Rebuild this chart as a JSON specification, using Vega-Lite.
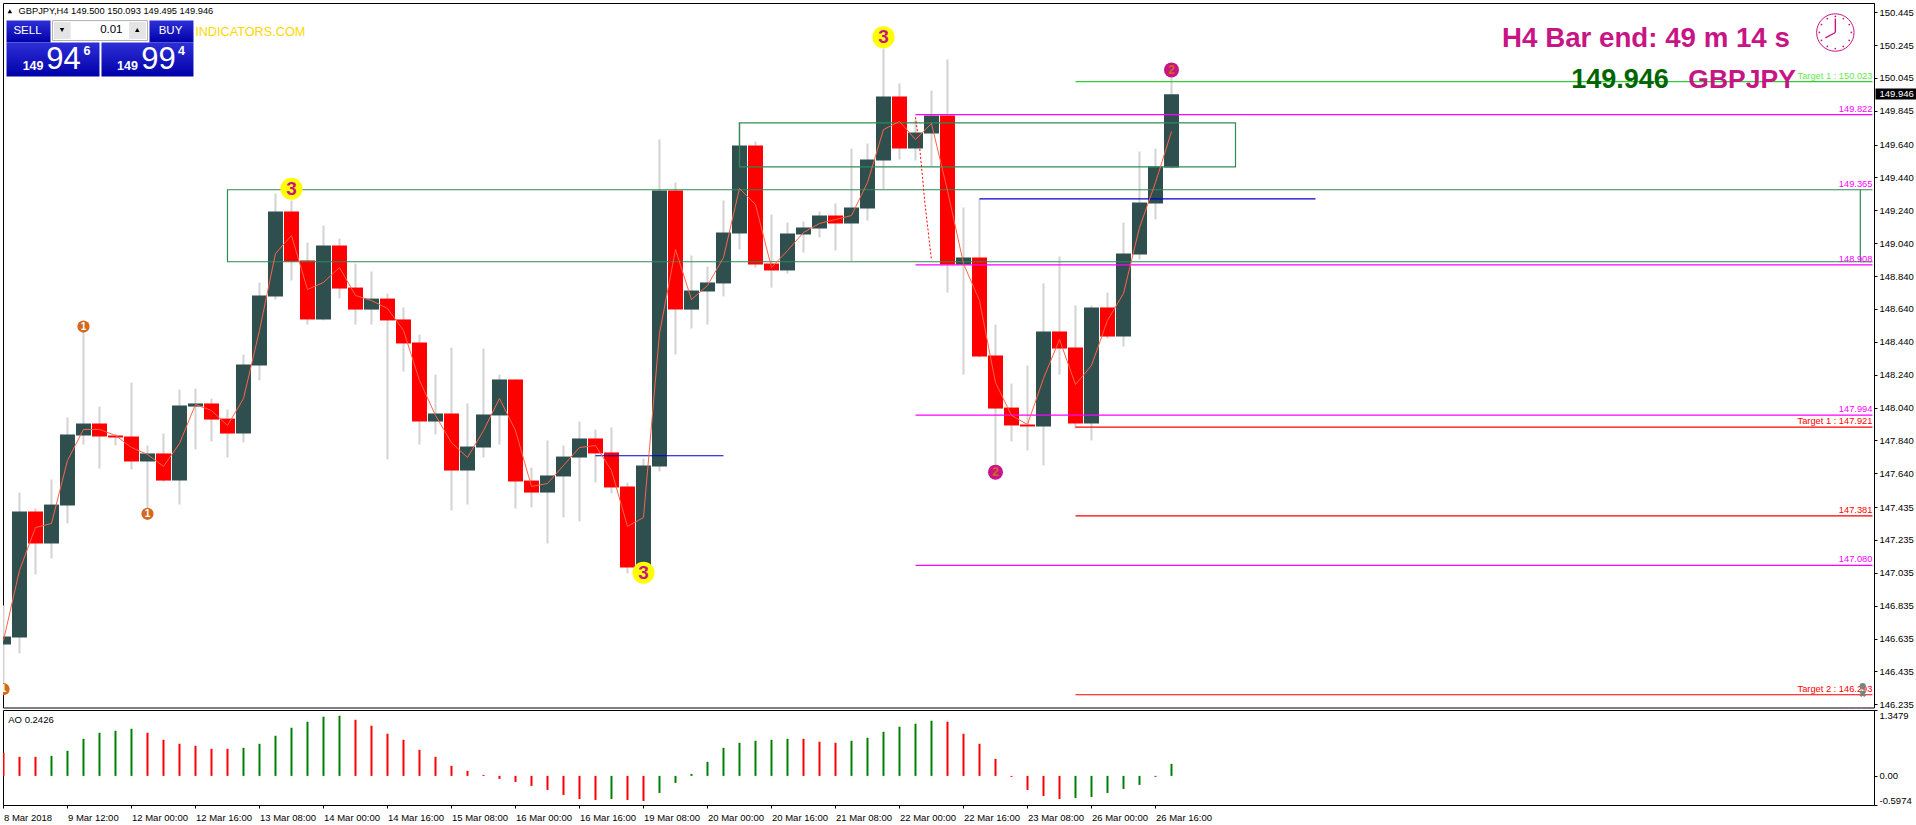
{
  "$schema": "https://vega.github.io/schema/vega-lite/v6.json",
  "background": "white",
  "padding": {"left": 2, "top": 2, "right": 0, "bottom": 0},
  "config": {
    "font": "Liberation Sans",
    "view": {"stroke": "#000000", "strokeWidth": 1},
    "axis": {"grid": false, "title": null, "labelColor": "#000000", "tickColor": "#000000", "domainColor": "#000000", "labelFontSize": 9.5, "tickSize": 3, "labelPadding": 2, "labelOverlap": false, "labelBound": false, "labelFlush": false}
  },
  "datasets": {
    "bars": [
      {"bar":0,"open":146.599,"high":146.836,"low":146.320,"close":146.648,"ma":146.623,"ao":0.517,"ao_dir":"down"},
      {"bar":1,"open":146.641,"high":147.523,"low":146.544,"close":147.408,"ma":147.049,"ao":0.427,"ao_dir":"down"},
      {"bar":2,"open":147.408,"high":147.426,"low":147.025,"close":147.213,"ma":147.310,"ao":0.427,"ao_dir":"down"},
      {"bar":3,"open":147.213,"high":147.603,"low":147.122,"close":147.450,"ma":147.335,"ao":0.449,"ao_dir":"up"},
      {"bar":4,"open":147.444,"high":147.980,"low":147.335,"close":147.876,"ma":147.718,"ao":0.562,"ao_dir":"up"},
      {"bar":5,"open":147.870,"high":148.509,"low":147.815,"close":147.943,"ma":147.907,"ao":0.831,"ao_dir":"up"},
      {"bar":6,"open":147.943,"high":148.046,"low":147.669,"close":147.864,"ma":147.907,"ao":0.966,"ao_dir":"up"},
      {"bar":7,"open":147.870,"high":147.882,"low":147.809,"close":147.858,"ma":147.870,"ao":1.011,"ao_dir":"up"},
      {"bar":8,"open":147.864,"high":148.192,"low":147.663,"close":147.712,"ma":147.797,"ao":1.056,"ao_dir":"up"},
      {"bar":9,"open":147.712,"high":147.809,"low":147.414,"close":147.761,"ma":147.755,"ao":0.966,"ao_dir":"down"},
      {"bar":10,"open":147.761,"high":147.882,"low":147.590,"close":147.596,"ma":147.682,"ao":0.809,"ao_dir":"down"},
      {"bar":11,"open":147.596,"high":148.150,"low":147.450,"close":148.053,"ma":147.821,"ao":0.719,"ao_dir":"down"},
      {"bar":12,"open":148.046,"high":148.156,"low":147.785,"close":148.065,"ma":148.059,"ao":0.674,"ao_dir":"down"},
      {"bar":13,"open":148.065,"high":148.095,"low":147.834,"close":147.967,"ma":148.022,"ao":0.607,"ao_dir":"down"},
      {"bar":14,"open":147.973,"high":148.028,"low":147.736,"close":147.882,"ma":147.931,"ao":0.607,"ao_dir":"down"},
      {"bar":15,"open":147.882,"high":148.363,"low":147.827,"close":148.302,"ma":148.095,"ao":0.629,"ao_dir":"up"},
      {"bar":16,"open":148.296,"high":148.801,"low":148.205,"close":148.722,"ma":148.509,"ao":0.719,"ao_dir":"up"},
      {"bar":17,"open":148.716,"high":149.342,"low":148.697,"close":149.233,"ma":148.977,"ao":0.899,"ao_dir":"up"},
      {"bar":18,"open":149.233,"high":149.300,"low":148.813,"close":148.928,"ma":149.087,"ao":1.079,"ao_dir":"up"},
      {"bar":19,"open":148.935,"high":149.044,"low":148.545,"close":148.576,"ma":148.758,"ao":1.213,"ao_dir":"up"},
      {"bar":20,"open":148.576,"high":149.147,"low":148.570,"close":149.026,"ma":148.801,"ao":1.326,"ao_dir":"up"},
      {"bar":21,"open":149.026,"high":149.068,"low":148.703,"close":148.764,"ma":148.892,"ao":1.348,"ao_dir":"up"},
      {"bar":22,"open":148.770,"high":148.916,"low":148.545,"close":148.636,"ma":148.722,"ao":1.258,"ao_dir":"down"},
      {"bar":23,"open":148.636,"high":148.868,"low":148.545,"close":148.703,"ma":148.691,"ao":1.124,"ao_dir":"down"},
      {"bar":24,"open":148.703,"high":148.734,"low":147.724,"close":148.570,"ma":148.643,"ao":0.944,"ao_dir":"down"},
      {"bar":25,"open":148.576,"high":148.649,"low":148.259,"close":148.430,"ma":148.509,"ao":0.809,"ao_dir":"down"},
      {"bar":26,"open":148.436,"high":148.484,"low":147.815,"close":147.955,"ma":148.205,"ao":0.584,"ao_dir":"down"},
      {"bar":27,"open":147.955,"high":148.241,"low":147.876,"close":148.004,"ma":147.992,"ao":0.427,"ao_dir":"down"},
      {"bar":28,"open":148.004,"high":148.405,"low":147.414,"close":147.657,"ma":147.827,"ao":0.225,"ao_dir":"down"},
      {"bar":29,"open":147.657,"high":148.065,"low":147.450,"close":147.803,"ma":147.736,"ao":0.112,"ao_dir":"down"},
      {"bar":30,"open":147.797,"high":148.399,"low":147.736,"close":147.998,"ma":147.900,"ao":0.022,"ao_dir":"down"},
      {"bar":31,"open":147.992,"high":148.241,"low":147.815,"close":148.211,"ma":148.095,"ao":-0.067,"ao_dir":"down"},
      {"bar":32,"open":148.211,"high":148.211,"low":147.426,"close":147.590,"ma":147.900,"ao":-0.135,"ao_dir":"down"},
      {"bar":33,"open":147.596,"high":147.675,"low":147.432,"close":147.523,"ma":147.560,"ao":-0.225,"ao_dir":"down"},
      {"bar":34,"open":147.523,"high":147.840,"low":147.213,"close":147.627,"ma":147.578,"ao":-0.315,"ao_dir":"down"},
      {"bar":35,"open":147.621,"high":147.809,"low":147.371,"close":147.742,"ma":147.688,"ao":-0.427,"ao_dir":"down"},
      {"bar":36,"open":147.736,"high":147.955,"low":147.347,"close":147.852,"ma":147.797,"ao":-0.517,"ao_dir":"down"},
      {"bar":37,"open":147.852,"high":147.907,"low":147.584,"close":147.761,"ma":147.809,"ao":-0.539,"ao_dir":"down"},
      {"bar":38,"open":147.767,"high":147.919,"low":147.517,"close":147.554,"ma":147.657,"ao":-0.517,"ao_dir":"up"},
      {"bar":39,"open":147.560,"high":147.584,"low":147.031,"close":147.067,"ma":147.317,"ao":-0.539,"ao_dir":"down"},
      {"bar":40,"open":147.079,"high":147.730,"low":147.031,"close":147.688,"ma":147.371,"ao":-0.562,"ao_dir":"down"},
      {"bar":41,"open":147.682,"high":149.671,"low":147.651,"close":149.360,"ma":148.491,"ao":-0.382,"ao_dir":"up"},
      {"bar":42,"open":149.360,"high":149.409,"low":148.363,"close":148.636,"ma":149.001,"ao":-0.157,"ao_dir":"up"},
      {"bar":43,"open":148.636,"high":148.965,"low":148.521,"close":148.752,"ma":148.697,"ao":0.045,"ao_dir":"up"},
      {"bar":44,"open":148.746,"high":148.898,"low":148.545,"close":148.801,"ma":148.782,"ao":0.315,"ao_dir":"up"},
      {"bar":45,"open":148.795,"high":149.300,"low":148.716,"close":149.105,"ma":148.953,"ao":0.629,"ao_dir":"up"},
      {"bar":46,"open":149.099,"high":149.774,"low":149.001,"close":149.634,"ma":149.373,"ao":0.742,"ao_dir":"up"},
      {"bar":47,"open":149.634,"high":149.658,"low":148.892,"close":148.910,"ma":149.275,"ao":0.787,"ao_dir":"up"},
      {"bar":48,"open":148.916,"high":149.214,"low":148.770,"close":148.874,"ma":148.892,"ao":0.809,"ao_dir":"up"},
      {"bar":49,"open":148.874,"high":149.166,"low":148.855,"close":149.099,"ma":148.995,"ao":0.831,"ao_dir":"up"},
      {"bar":50,"open":149.093,"high":149.172,"low":148.983,"close":149.135,"ma":149.105,"ao":0.831,"ao_dir":"down"},
      {"bar":51,"open":149.129,"high":149.233,"low":149.074,"close":149.208,"ma":149.160,"ao":0.764,"ao_dir":"down"},
      {"bar":52,"open":149.208,"high":149.281,"low":148.995,"close":149.160,"ma":149.184,"ao":0.742,"ao_dir":"down"},
      {"bar":53,"open":149.160,"high":149.616,"low":148.928,"close":149.257,"ma":149.208,"ao":0.787,"ao_dir":"up"},
      {"bar":54,"open":149.251,"high":149.646,"low":149.178,"close":149.549,"ma":149.409,"ao":0.854,"ao_dir":"up"},
      {"bar":55,"open":149.543,"high":150.224,"low":149.366,"close":149.932,"ma":149.731,"ao":0.989,"ao_dir":"up"},
      {"bar":56,"open":149.932,"high":150.011,"low":149.549,"close":149.616,"ma":149.780,"ao":1.101,"ao_dir":"up"},
      {"bar":57,"open":149.616,"high":149.792,"low":149.543,"close":149.713,"ma":149.671,"ao":1.169,"ao_dir":"up"},
      {"bar":58,"open":149.707,"high":149.969,"low":149.506,"close":149.817,"ma":149.768,"ao":1.236,"ao_dir":"up"},
      {"bar":59,"open":149.817,"high":150.157,"low":148.740,"close":148.910,"ma":149.360,"ao":1.213,"ao_dir":"down"},
      {"bar":60,"open":148.910,"high":149.257,"low":148.241,"close":148.953,"ma":148.916,"ao":0.944,"ao_dir":"down"},
      {"bar":61,"open":148.953,"high":149.312,"low":148.345,"close":148.351,"ma":148.691,"ao":0.719,"ao_dir":"down"},
      {"bar":62,"open":148.357,"high":148.545,"low":147.657,"close":148.034,"ma":148.192,"ao":0.382,"ao_dir":"down"},
      {"bar":63,"open":148.040,"high":148.186,"low":147.834,"close":147.931,"ma":147.992,"ao":-0.022,"ao_dir":"down"},
      {"bar":64,"open":147.937,"high":148.296,"low":147.779,"close":147.925,"ma":147.937,"ao":-0.315,"ao_dir":"down"},
      {"bar":65,"open":147.925,"high":148.795,"low":147.688,"close":148.503,"ma":148.217,"ao":-0.449,"ao_dir":"down"},
      {"bar":66,"open":148.503,"high":148.959,"low":148.241,"close":148.399,"ma":148.454,"ao":-0.517,"ao_dir":"down"},
      {"bar":67,"open":148.405,"high":148.661,"low":147.913,"close":147.943,"ma":148.180,"ao":-0.494,"ao_dir":"up"},
      {"bar":68,"open":147.943,"high":148.661,"low":147.840,"close":148.649,"ma":148.296,"ao":-0.472,"ao_dir":"up"},
      {"bar":69,"open":148.649,"high":148.740,"low":148.460,"close":148.472,"ma":148.570,"ao":-0.382,"ao_dir":"up"},
      {"bar":70,"open":148.472,"high":149.166,"low":148.411,"close":148.977,"ma":148.734,"ao":-0.292,"ao_dir":"up"},
      {"bar":71,"open":148.971,"high":149.598,"low":148.941,"close":149.287,"ma":149.135,"ao":-0.202,"ao_dir":"up"},
      {"bar":72,"open":149.281,"high":149.616,"low":149.184,"close":149.506,"ma":149.409,"ao":-0.022,"ao_dir":"up"},
      {"bar":73,"open":149.500,"high":150.093,"low":149.495,"close":149.946,"ma":149.719,"ao":0.270,"ao_dir":"up"}
    ],
    "levels": [
      {"kind":"target_up","bar":67,"end":116.81,"price":150.023,"label":"Target 1 : 150.023"},
      {"kind":"fib","bar":57,"end":116.81,"price":149.822,"label":"149.822"},
      {"kind":"box","bar":116.05,"end":116.81,"price":149.365,"label":"149.365"},
      {"kind":"box","bar":116.05,"end":116.81,"price":148.927,"label":""},
      {"kind":"fib","bar":57,"end":116.81,"price":148.908,"label":"148.908"},
      {"kind":"fib","bar":57,"end":116.81,"price":147.994,"label":"147.994"},
      {"kind":"fib","bar":57,"end":116.81,"price":147.080,"label":"147.080"},
      {"kind":"fib","bar":57,"end":116.81,"price":146.166,"label":"146.166"},
      {"kind":"target_down","bar":67,"end":116.81,"price":147.921,"label":"Target 1 : 147.921"},
      {"kind":"target_down","bar":67,"end":116.81,"price":147.381,"label":"147.381"},
      {"kind":"target_down","bar":67,"end":116.81,"price":146.293,"label":"Target 2 : 146.293"},
      {"kind":"pivot","bar":61,"end":82,"price":149.310,"label":""},
      {"kind":"pivot","bar":37,"end":45,"price":147.747,"label":""}
    ],
    "zones": [
      {"bar":14,"end":116.05,"top":149.365,"bottom":148.927},
      {"bar":46,"end":77,"top":149.772,"bottom":149.504}
    ],
    "retrace": [
      {"bar":57,"price":149.806},
      {"bar":57.26,"price":149.624},
      {"bar":57.44,"price":149.441},
      {"bar":57.57,"price":149.299},
      {"bar":57.86,"price":149.056},
      {"bar":58,"price":148.935}
    ],
    "clock_ticks": [
      {"bar":114.49,"price":150.419},{"bar":114.99,"price":150.406},{"bar":115.36,"price":150.370},
      {"bar":115.49,"price":150.322},{"bar":115.36,"price":150.273},{"bar":114.99,"price":150.237},
      {"bar":114.49,"price":150.224},{"bar":113.99,"price":150.237},{"bar":113.62,"price":150.273},
      {"bar":113.49,"price":150.322},{"bar":113.62,"price":150.370},{"bar":113.99,"price":150.406}
    ]
  },
  "bounds": "flush",
  "spacing": 2,
  "vconcat": [
    {
      "width": 1871,
      "height": 704.5,
      "encoding": {
        "x": {"field": "bar", "type": "quantitative", "axis": null, "scale": {"domain": [-0.03, 116.906], "nice": false, "zero": false, "padding": 0}}
      },
      "layer": [
        {
          "data": {"name": "bars"},
          "mark": {"type": "rule", "color": "#d3d3d3", "strokeWidth": 2, "clip": true},
          "encoding": {
            "y": {"field": "low", "type": "quantitative", "scale": {"domain": [146.2155, 150.501], "nice": false, "zero": false},
              "axis": {"orient": "right", "title": null, "format": ".3f", "labelOverlap": false, "tickCount": 30, "values": [150.445,150.245,150.045,149.845,149.640,149.440,149.240,149.040,148.840,148.640,148.440,148.240,148.040,147.840,147.640,147.435,147.235,147.035,146.835,146.635,146.435,146.235]}},
            "y2": {"field": "high"}
          }
        },
        {
          "data": {"name": "bars"},
          "mark": {"type": "bar", "size": 15, "clip": true},
          "encoding": {
            "y": {"field": "open", "type": "quantitative"},
            "y2": {"field": "close"},
            "color": {"condition": {"test": "datum.close >= datum.open", "value": "#2f4f4f"}, "value": "#ff0000"}
          }
        },
        {
          "data": {"name": "zones"},
          "mark": {"type": "rect", "filled": false, "stroke": "#2e8b57", "strokeWidth": 1.2},
          "encoding": {
            "x2": {"field": "end"},
            "y": {"field": "top", "type": "quantitative"},
            "y2": {"field": "bottom"}
          }
        },
        {
          "data": {"name": "levels"},
          "mark": {"type": "rule", "strokeWidth": 1.2, "clip": true},
          "encoding": {
            "x2": {"field": "end"},
            "y": {"field": "price", "type": "quantitative"},
            "stroke": {"field": "kind", "type": "nominal", "legend": null,
              "scale": {"domain": ["target_up","fib","target_down","pivot","box"], "range": ["#32cd32","#ff00ff","#ff0000","#0000cd","#2e8b57"]}}
          }
        },
        {
          "data": {"name": "levels"},
          "mark": {"type": "text", "align": "right", "baseline": "bottom", "dy": -1, "fontSize": 9.3, "clip": true},
          "encoding": {
            "x": {"field": "end", "type": "quantitative", "axis": null},
            "y": {"field": "price", "type": "quantitative"},
            "text": {"field": "label"},
            "fill": {"field": "kind", "type": "nominal", "legend": null,
              "scale": {"domain": ["target_up","fib","target_down","pivot","box"], "range": ["#66e84a","#ff00ff","#ff0000","#0000cd","#ff00ff"]}}
          }
        },
        {
          "data": {"name": "retrace"},
          "mark": {"type": "line", "color": "#ff0000", "strokeWidth": 1, "strokeDash": [2, 2]},
          "encoding": {"y": {"field": "price", "type": "quantitative"}}
        },
        {
          "data": {"name": "bars"},
          "mark": {"type": "line", "color": "#ff6347", "strokeWidth": 1, "clip": true},
          "encoding": {"y": {"field": "ma", "type": "quantitative"}}
        },
        {
          "data": {"values": [{"bar":18,"price":149.371,"label":"3"},{"bar":55,"price":150.293,"label":"3"},{"bar":40,"price":147.035,"label":"3"}]},
          "mark": {"type": "circle", "size": 490, "color": "#ffff00", "opacity": 1},
          "encoding": {"y": {"field": "price", "type": "quantitative"}}
        },
        {
          "data": {"values": [{"bar":18,"price":149.371,"label":"3"},{"bar":55,"price":150.293,"label":"3"},{"bar":40,"price":147.035,"label":"3"}]},
          "mark": {"type": "text", "fontSize": 19, "fontWeight": "bold", "color": "#c71585", "align": "center", "baseline": "middle"},
          "encoding": {"y": {"field": "price", "type": "quantitative"}, "text": {"field": "label"}}
        },
        {
          "data": {"values": [{"bar":73,"price":150.094,"label":"2"},{"bar":62,"price":147.647,"label":"2"}]},
          "mark": {"type": "circle", "size": 225, "color": "#c71585", "opacity": 1},
          "encoding": {"y": {"field": "price", "type": "quantitative"}}
        },
        {
          "data": {"values": [{"bar":73,"price":150.094,"label":"2"},{"bar":62,"price":147.647,"label":"2"}]},
          "mark": {"type": "text", "fontSize": 12, "fontWeight": "bold", "color": "#d2691e", "align": "center", "baseline": "middle"},
          "encoding": {"y": {"field": "price", "type": "quantitative"}, "text": {"field": "label"}}
        },
        {
          "data": {"values": [{"bar":5,"price":148.533,"label":"1"},{"bar":9,"price":147.394,"label":"1"},{"bar":0,"price":146.327,"label":"1"}]},
          "mark": {"type": "circle", "size": 150, "color": "#d2691e", "opacity": 1, "clip": true},
          "encoding": {"y": {"field": "price", "type": "quantitative"}}
        },
        {
          "data": {"values": [{"bar":5,"price":148.533,"label":"1"},{"bar":9,"price":147.394,"label":"1"},{"bar":0,"price":146.327,"label":"1"}]},
          "mark": {"type": "text", "fontSize": 10, "fontWeight": "bold", "color": "#ffffff", "align": "center", "baseline": "middle", "clip": true},
          "encoding": {"y": {"field": "price", "type": "quantitative"}, "text": {"field": "label"}}
        },
        {
          "data": {"values": [{"bar":116.2,"price":146.345}]},
          "mark": {"type": "circle", "size": 40, "color": "#808080", "opacity": 1},
          "encoding": {"y": {"field": "price", "type": "quantitative"}}
        },
        {
          "data": {"values": [{"bar":116.2,"price":146.300}]},
          "mark": {"type": "point", "shape": "cross", "angle": 45, "size": 50, "filled": true, "color": "#808080", "opacity": 1},
          "encoding": {"y": {"field": "price", "type": "quantitative"}}
        },
        {
          "data": {"values": [{"bar":0.19,"end":2.94,"top":150.394,"bottom":150.261},{"bar":9.125,"end":11.875,"top":150.394,"bottom":150.261},{"bar":0.19,"end":6,"top":150.261,"bottom":150.054},{"bar":6.125,"end":11.875,"top":150.261,"bottom":150.054}]},
          "mark": {"type": "rect", "color": {"gradient": "linear", "x1": 0, "y1": 0, "x2": 0, "y2": 1, "stops": [{"offset": 0, "color": "#2f2fd8"}, {"offset": 1, "color": "#0000a8"}]}},
          "encoding": {"x2": {"field": "end"}, "y": {"field": "top", "type": "quantitative"}, "y2": {"field": "bottom"}}
        },
        {
          "data": {"values": [{"bar":3.06,"end":9.0,"top":150.394,"bottom":150.273}]},
          "mark": {"type": "rect", "fill": "#ffffff", "stroke": "#b0b0b0", "strokeWidth": 1},
          "encoding": {"x2": {"field": "end"}, "y": {"field": "top", "type": "quantitative"}, "y2": {"field": "bottom"}}
        },
        {
          "data": {"values": [{"bar":3.15,"end":4.2,"top":150.385,"bottom":150.282},{"bar":7.85,"end":8.9,"top":150.385,"bottom":150.282}]},
          "mark": {"type": "rect", "fill": "#e4e4e4"},
          "encoding": {"x2": {"field": "end"}, "y": {"field": "top", "type": "quantitative"}, "y2": {"field": "bottom"}}
        },
        {
          "data": {"values": [{"bar":0.4,"price":150.451},{"bar":8.36,"price":150.337}]},
          "mark": {"type": "point", "shape": "triangle-up", "size": 20, "filled": true, "color": "#000000", "opacity": 1},
          "encoding": {"y": {"field": "price", "type": "quantitative"}}
        },
        {
          "data": {"values": [{"bar":3.66,"price":150.337}]},
          "mark": {"type": "point", "shape": "triangle-down", "size": 20, "filled": true, "color": "#000000", "opacity": 1},
          "encoding": {"y": {"field": "price", "type": "quantitative"}}
        },
        {
          "data": {"values": [{"bar":0.94,"price":150.451,"label":"GBPJPY,H4  149.500 150.093 149.495 149.946"}]},
          "mark": {"type": "text", "align": "left", "baseline": "middle", "fontSize": 9.3, "color": "#000000"},
          "encoding": {"y": {"field": "price", "type": "quantitative"}, "text": {"field": "label"}}
        },
        {
          "data": {"values": [{"bar":1.5,"price":150.330,"label":"SELL"},{"bar":10.44,"price":150.330,"label":"BUY"}]},
          "mark": {"type": "text", "align": "center", "baseline": "middle", "fontSize": 11.5, "color": "#ffffff"},
          "encoding": {"y": {"field": "price", "type": "quantitative"}, "text": {"field": "label"}}
        },
        {
          "data": {"values": [{"bar":7.44,"price":150.336,"label":"0.01"}]},
          "mark": {"type": "text", "align": "right", "baseline": "middle", "fontSize": 11.5, "color": "#000000"},
          "encoding": {"y": {"field": "price", "type": "quantitative"}, "text": {"field": "label"}}
        },
        {
          "data": {"values": [{"bar":1.85,"price":150.116,"label":"149"},{"bar":7.75,"price":150.116,"label":"149"},{"bar":5.22,"price":150.208,"label":"6"},{"bar":11.12,"price":150.208,"label":"4"}]},
          "mark": {"type": "text", "align": "center", "baseline": "middle", "fontSize": 12.5, "fontWeight": "bold", "color": "#ffffff"},
          "encoding": {"y": {"field": "price", "type": "quantitative"}, "text": {"field": "label"}}
        },
        {
          "data": {"values": [{"bar":3.75,"price":150.157,"label":"94"},{"bar":9.69,"price":150.157,"label":"99"}]},
          "mark": {"type": "text", "align": "center", "baseline": "middle", "fontSize": 31, "color": "#ffffff"},
          "encoding": {"y": {"field": "price", "type": "quantitative"}, "text": {"field": "label"}}
        },
        {
          "data": {"values": [{"bar":11.98,"price":150.326,"label":"INDICATORS.COM"}]},
          "mark": {"type": "text", "align": "left", "baseline": "middle", "fontSize": 12.7, "color": "#ffd700"},
          "encoding": {"y": {"field": "price", "type": "quantitative"}, "text": {"field": "label"}}
        },
        {
          "data": {"values": [{"bar":93.66,"price":150.279,"label":"H4 Bar end: 49 m 14 s"}]},
          "mark": {"type": "text", "align": "left", "baseline": "middle", "fontSize": 27.7, "fontWeight": "bold", "color": "#c71585"},
          "encoding": {"y": {"field": "price", "type": "quantitative"}, "text": {"field": "label"}}
        },
        {
          "data": {"values": [{"bar":105.3,"price":150.034,"label":"GBPJPY"}]},
          "mark": {"type": "text", "align": "left", "baseline": "middle", "fontSize": 26.5, "fontWeight": "bold", "color": "#c71585"},
          "encoding": {"y": {"field": "price", "type": "quantitative"}, "text": {"field": "label"}}
        },
        {
          "data": {"values": [{"bar":97.98,"price":150.034,"label":"149.946"}]},
          "mark": {"type": "text", "align": "left", "baseline": "middle", "fontSize": 27, "fontWeight": "bold", "color": "#006400"},
          "encoding": {"y": {"field": "price", "type": "quantitative"}, "text": {"field": "label"}}
        },
        {
          "data": {"values": [{"bar":114.49,"price":150.3215}]},
          "mark": {"type": "point", "shape": "circle", "size": 1400, "filled": false, "stroke": "#c71585", "strokeWidth": 1, "opacity": 1},
          "encoding": {"y": {"field": "price", "type": "quantitative"}}
        },
        {
          "data": {"name": "clock_ticks"},
          "mark": {"type": "circle", "size": 3, "color": "#c71585", "opacity": 1},
          "encoding": {"y": {"field": "price", "type": "quantitative"}}
        },
        {
          "data": {"values": [{"bar":114.49,"end":114.49,"price":150.3215,"tip":150.407},{"bar":114.49,"end":113.87,"price":150.3215,"tip":150.289}]},
          "mark": {"type": "rule", "color": "#c71585", "strokeWidth": 1.4},
          "encoding": {"x2": {"field": "end"}, "y": {"field": "price", "type": "quantitative"}, "y2": {"field": "tip"}}
        },
        {
          "data": {"values": [{"bar":117.0,"end":119.56,"top":149.981,"bottom":149.914}]},
          "mark": {"type": "rect", "color": "#000000"},
          "encoding": {"x2": {"field": "end"}, "y": {"field": "top", "type": "quantitative"}, "y2": {"field": "bottom"}}
        },
        {
          "data": {"values": [{"bar":117.25,"price":149.947,"label":"149.946"}]},
          "mark": {"type": "text", "align": "left", "baseline": "middle", "fontSize": 9.5, "color": "#ffffff"},
          "encoding": {"y": {"field": "price", "type": "quantitative"}, "text": {"field": "label"}}
        }
      ]
    },
    {
      "width": 1871,
      "height": 95,
      "encoding": {
        "x": {"field": "bar", "type": "quantitative", "scale": {"domain": [-0.03, 116.906], "nice": false, "zero": false, "padding": 0},
          "axis": {"values": [0,4,8,12,16,20,24,28,32,36,40,44,48,52,56,60,64,68,72], "labelAlign": "left", "labelPadding": 4, "title": null,
            "labelExpr": "['8 Mar 2018','9 Mar 12:00','12 Mar 00:00','12 Mar 16:00','13 Mar 08:00','14 Mar 00:00','14 Mar 16:00','15 Mar 08:00','16 Mar 00:00','16 Mar 16:00','19 Mar 08:00','20 Mar 00:00','20 Mar 16:00','21 Mar 08:00','22 Mar 00:00','22 Mar 16:00','23 Mar 08:00','26 Mar 00:00','26 Mar 16:00'][datum.value / 4]"}}
      },
      "layer": [
        {
          "data": {"name": "bars"},
          "mark": {"type": "rule", "strokeWidth": 2, "clip": true},
          "encoding": {
            "y": {"field": "ao", "type": "quantitative", "scale": {"domain": [-0.652, 1.476], "nice": false, "zero": false},
              "axis": {"orient": "right", "title": null, "values": [1.476, 0, -0.652],
                "labelExpr": "datum.value > 1 ? '1.3479' : datum.value < 0 ? '-0.5974' : '0.00'",
                "labelBaseline": {"condition": [{"test": "datum.value > 1", "value": "top"}, {"test": "datum.value < 0", "value": "bottom"}], "value": "middle"}}},
            "y2": {"datum": 0},
            "color": {"condition": {"test": "datum.ao_dir == 'up'", "value": "#008000"}, "value": "#ff0000"}
          }
        },
        {
          "data": {"values": [{"bar":0.3,"ao":1.258,"label":"AO 0.2426"}]},
          "mark": {"type": "text", "align": "left", "baseline": "middle", "fontSize": 9.5, "color": "#000000"},
          "encoding": {"y": {"field": "ao", "type": "quantitative"}, "text": {"field": "label"}}
        }
      ]
    }
  ]
}
